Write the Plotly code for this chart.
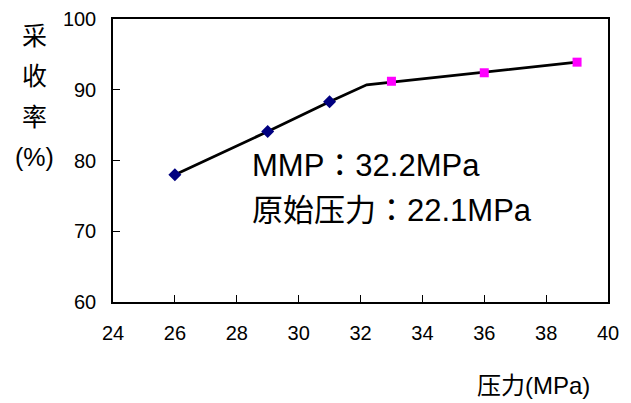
import plotly.graph_objects as go

# Data
x_blue = [26, 29, 31]
y_blue = [78.0, 84.1, 88.3]
x_pink = [33, 36, 39]
y_pink = [91.2, 92.4, 93.9]
x_line = [26, 29, 31, 32.2, 39]
y_line = [78.0, 84.1, 88.3, 90.7, 93.9]
x_ticks = [24, 26, 28, 30, 32, 34, 36, 38, 40]
y_ticks = [60, 70, 80, 90, 100]
note_lines = ["MMP：32.2MPa", "原始压力：22.1MPa"]
y_title_chars = ["采", "收", "率", "(%)"]
x_title = "压力(MPa)"

FONT = "Liberation Sans, Arial, Noto Sans CJK TC, sans-serif"

fig = go.Figure()
fig.add_trace(go.Scatter(x=x_line, y=y_line, mode="lines",
                         line=dict(color="black", width=2.8), showlegend=False))
fig.add_trace(go.Scatter(x=x_blue, y=y_blue, mode="markers",
                         marker=dict(symbol="diamond", size=10, color="#000080"),
                         showlegend=False))
fig.add_trace(go.Scatter(x=x_pink, y=y_pink, mode="markers",
                         marker=dict(symbol="square", size=9, color="#FF00FF"),
                         showlegend=False))

OFF = 8  # page body margin
W, H = 631 - OFF, 403 - OFF
L, R, T, B = 113 - OFF, 23, 19 - OFF, 101
pw, ph = W - L - R, H - T - B

def px(xp):
    return (xp - OFF - L) / pw

def py(yp):
    return (H - B - (yp - OFF)) / ph

ann = []
for i, t in enumerate(note_lines):
    ann.append(dict(text=t, x=px(250), y=py([165, 211][i]), xref="paper", yref="paper",
                    xanchor="left", yanchor="middle", showarrow=False,
                    font=dict(size=31, color="black", family=FONT)))
for i, t in enumerate(y_title_chars):
    ann.append(dict(text=t, x=px(34), y=py([36, 76, 117, 157][i]), xref="paper", yref="paper",
                    xanchor="center", yanchor="middle", showarrow=False,
                    font=dict(size=25, color="black", family=FONT)))
ann.append(dict(text=x_title, x=px(533), y=py(386), xref="paper", yref="paper",
                xanchor="center", yanchor="middle", showarrow=False,
                font=dict(size=24, color="black", family=FONT)))

fig.update_layout(
    width=W, height=H,
    margin=dict(l=L, r=R, t=T, b=B, pad=0, autoexpand=False),
    paper_bgcolor="white", plot_bgcolor="white",
    font=dict(family=FONT, color="black", size=20),
    annotations=ann,
    xaxis=dict(range=[24, 40], tickvals=x_ticks, ticks="inside", ticklen=7,
               tickcolor="black", showline=True, linecolor="black", linewidth=1.5,
               mirror=True, showgrid=False, zeroline=False, ticklabelstandoff=12,
               automargin=False, tickfont=dict(size=20, family=FONT)),
    yaxis=dict(range=[60, 100], tickvals=y_ticks, ticks="inside", ticklen=7,
               tickcolor="black", showline=True, linecolor="black", linewidth=1.5,
               mirror=True, showgrid=False, zeroline=False, ticklabelstandoff=11,
               automargin=False, tickfont=dict(size=20, family=FONT)),
)

fig.write_html("out.html")
